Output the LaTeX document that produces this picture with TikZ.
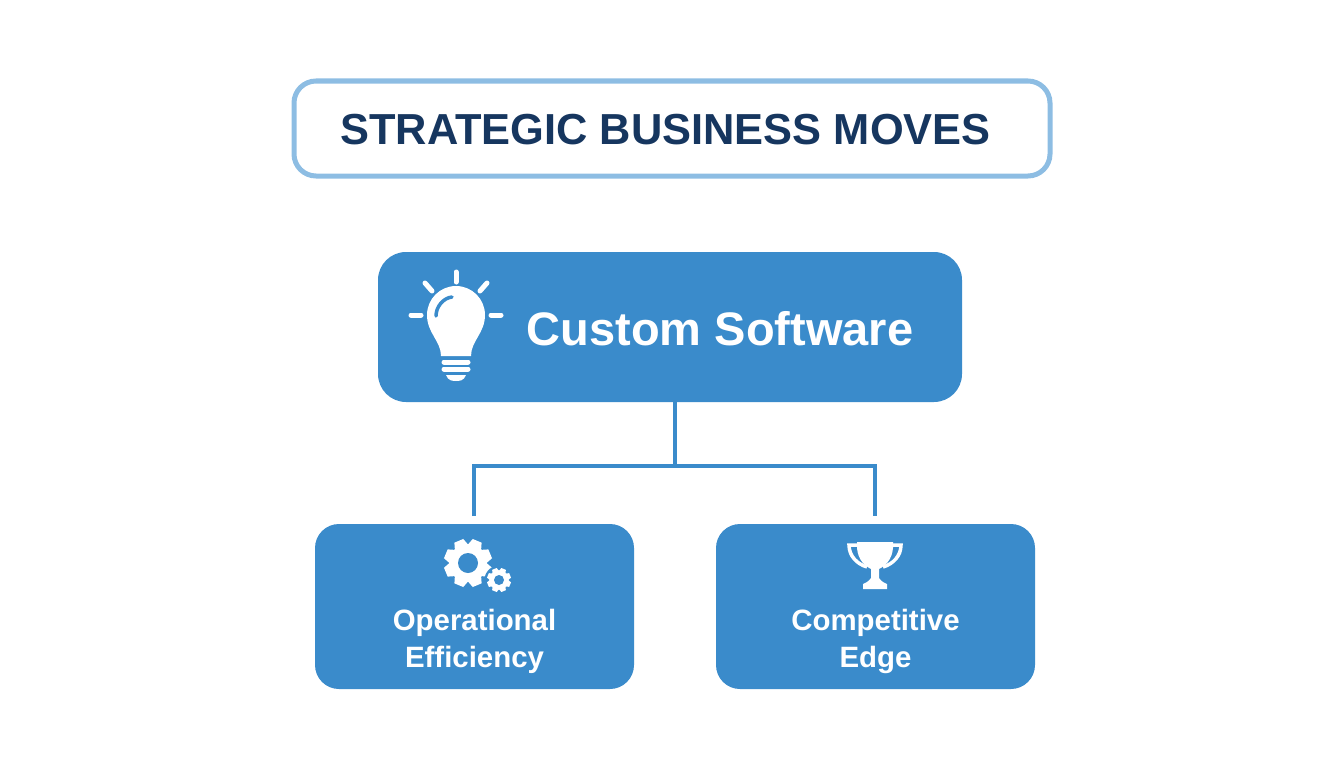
\documentclass[tikz,border=0pt]{standalone}
\usepackage{fontspec}
\setmainfont{Liberation Sans}
\definecolor{boxblue}{HTML}{3A8BCB}
\definecolor{paleblue}{HTML}{8DBDE3}
\definecolor{navy}{HTML}{16365F}
\tikzset{
  mainbox/.style={fill=boxblue,rounded corners=28pt,minimum width=584pt,minimum height=150pt,inner sep=0pt},
  subbox/.style={fill=boxblue,rounded corners=24pt,minimum width=319pt,minimum height=165pt,inner sep=0pt},
  conn/.style={draw=boxblue,line width=4pt},
  sublabel/.style={text=white,font=\fontsize{29.4}{36.5}\selectfont\bfseries,align=center,inner sep=0pt},
  ray/.style={white,line width=5pt,line cap=round}
}
\newcommand{\gearicon}[5]{% x, y, outer radius, root radius, hole radius
  \begin{scope}[shift={(#1,#2)}]
    \fill[white] (0,0) circle (#4pt);
    \foreach \a in {22.5,67.5,...,337.5}
      \fill[white,rotate=\a] (-.3*#3,.7*#3) -- (-.2*#3,#3) -- (.2*#3,#3) -- (.3*#3,.7*#3) -- cycle;
    \fill[boxblue] (0,0) circle (#5pt);
  \end{scope}
}
\begin{document}
\begin{tikzpicture}[x=1pt,y=-1pt]
      \useasboundingbox (0,0) rectangle (1344,768);
      %title
      \node[draw=paleblue,line width=5pt,rounded corners=22pt,minimum width=756pt,minimum height=95pt,inner sep=0pt] (title) at (672,128.5) {};
      \node[text=navy,font=\fontsize{43.4}{54}\selectfont\bfseries,inner sep=0pt] (titletext) at (665.5,129.5) {STRATEGIC BUSINESS MOVES};
      %boxes
      \node[mainbox] (custom) at (670,327) {};
      \node[subbox] (ops) at (474.5,606.5) {};
      \node[subbox] (edge) at (875.5,606.5) {};
      \node[text=white,font=\fontsize{47}{54}\selectfont\bfseries,inner sep=0pt] (customtext) at (720,329) {Custom Software};
      \node[sublabel] (opstext) at (474.5,641.5) {Operational\\Efficiency};
      \node[sublabel] (edgetext) at (875.5,641.5) {Competitive\\Edge};
      %connectors
      \coordinate (split) at (675,466);
      \coordinate (opsend) at (473.5,516);
      \coordinate (edgeend) at (875,516);
      \draw[conn] (custom.south -| split) -- (split);
      \draw[conn] (opsend) -- (opsend |- split) -- (edgeend |- split) -- (edgeend);
      %bulb
      \begin{scope}[shift={(456,315)}]
        \draw[ray] (0,-43) -- (0,-33);
        \draw[ray] (-31,-32) -- (-24,-24);
        \draw[ray] (31,-32) -- (24,-24);
        \draw[ray] (-45,0) -- (-35,0);
        \draw[ray] (45,0) -- (35,0);
        \fill[white] (-15,41) .. controls (-15,26) and (-29,18) .. (-29,0)
          arc (180:360:29) .. controls (29,18) and (15,26) .. (15,41) -- cycle;
        \draw[boxblue,line width=3.5pt,line cap=round] (-20,1) .. controls (-20,-8) and (-13,-17) .. (-4,-18);
        \draw[white,line width=5pt,line cap=round] (-12,47) -- (12,47) (-12,54) -- (12,54);
        \fill[white] (-10,60) -- (10,60) .. controls (8,66) and (3,66) .. (0,66) .. controls (-3,66) and (-8,66) .. (-10,60) -- cycle;
      \end{scope}
      %gears
      \gearicon{468}{563}{24}{19}{10}
      \fill[boxblue] (499,580) circle (14.5pt);
      \gearicon{499}{580}{12}{9.5}{5}
      %trophy
      \begin{scope}[shift={(875,542)}]
        \draw[white,line width=3.5pt] (-18,3) -- (-26,3) .. controls (-26,14) and (-18,22) .. (-8,25);
        \draw[white,line width=3.5pt] (18,3) -- (26,3) .. controls (26,14) and (18,22) .. (8,25);
        \fill[white] (-18,0) -- (18,0) -- (18,6) .. controls (17,18) and (10,24) .. (4,27)
          -- (4,36) .. controls (5,38) and (7,39) .. (8,40) -- (12,42) -- (12,47) -- (-12,47) -- (-12,42) -- (-8,40)
          .. controls (-7,39) and (-5,38) .. (-4,36) -- (-4,27) .. controls (-10,24) and (-17,18) .. (-18,6) -- cycle;
      \end{scope}
\end{tikzpicture}
\end{document}
